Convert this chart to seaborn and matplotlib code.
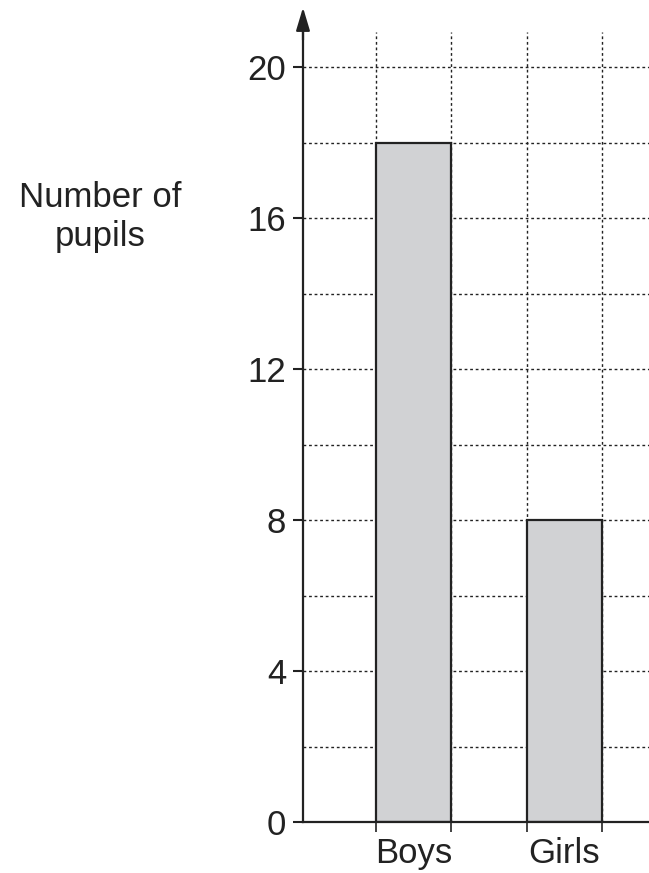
import matplotlib
matplotlib.use('Agg')
import pandas as pd
import seaborn as sns
from matplotlib import pyplot as plt

# Data
groups = ['Boys', 'Girls']
pupils = [18, 8]
y_ticks = [0, 4, 8, 12, 16, 20]
y_minor = [2, 6, 10, 14, 18]
bar_edges = [-0.25, 0.25, 0.75, 1.25]

df = pd.DataFrame({'group': groups, 'pupils': pupils})

sns.set_style('white')
plt.rcParams['font.family'] = ['Liberation Sans', 'DejaVu Sans']

fig = plt.figure(figsize=(6.49, 8.73), dpi=100)
ax = fig.add_axes([303/649, 51/873, 346/649, 790/873])

sns.barplot(data=df, x='group', y='pupils', ax=ax, width=0.5,
            color='#d1d2d4', edgecolor='#222222', linewidth=1.6, saturation=1)

ax.set_xlim(-0.73, 1.56)
ax.set_ylim(0, 20.93)

ax.set_yticks(y_ticks)
ax.set_yticks(y_minor, minor=True)
ax.set_xticks([0, 1])
ax.set_xticks(bar_edges, minor=True)
ax.set_xticklabels(groups)

grid_kw = dict(color='#222222', linestyle=(0, (2, 2)), linewidth=1.0)
ax.grid(False)
ax.yaxis.grid(True, which='both', **grid_kw)
ax.xaxis.grid(True, which='minor', **grid_kw)
ax.xaxis.grid(False, which='major')
ax.set_axisbelow(True)

ax.tick_params(axis='y', which='major', direction='out', length=7, width=1.5,
               labelsize=25, pad=5, left=True, colors='#222222')
ax.tick_params(axis='y', which='minor', length=0)
ax.tick_params(axis='x', which='major', length=0, labelsize=25, pad=11, colors='#222222')
ax.tick_params(axis='x', which='minor', direction='out', length=7, width=1.2,
               bottom=True, colors='#222222')

for s in ['top', 'right']:
    ax.spines[s].set_visible(False)
for s in ['left', 'bottom']:
    ax.spines[s].set_linewidth(1.6)
    ax.spines[s].set_color('#222222')

ax.set_xlabel('')
ax.set_ylabel('')

# arrow at the top of the y axis
ax.annotate('', xy=(0, 1.031), xytext=(0, 0.99), xycoords='axes fraction',
            arrowprops=dict(arrowstyle='-|>,head_length=1.4,head_width=0.42',
                            color='#222222', lw=1.6, shrinkA=0, shrinkB=0),
            annotation_clip=False)

fig.text(100/649, 1 - 217/873, 'Number of\npupils', ha='center', va='center',
         fontsize=25, color='#222222', linespacing=1.25)

fig.savefig('out.png', dpi=100)
